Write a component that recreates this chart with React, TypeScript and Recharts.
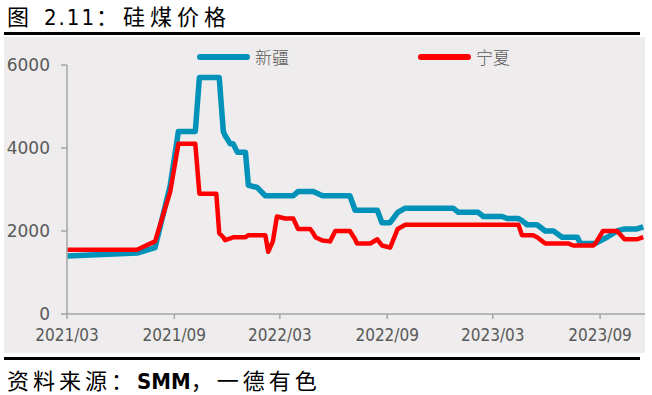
import { LineChart, Line, XAxis, YAxis } from 'recharts';

// 日期（周度）
const dates = [
    '2021-03-01', '2021-06-29', '2021-07-30', '2021-08-25', '2021-09-08', '2021-10-07',
    '2021-10-14', '2021-11-12', '2021-11-17', '2021-11-24', '2021-11-27', '2021-12-06',
    '2021-12-11', '2021-12-18', '2022-01-01', '2022-01-06', '2022-01-21', '2022-02-04',
    '2022-02-09', '2022-02-17', '2022-02-24', '2022-03-10', '2022-03-24', '2022-04-01',
    '2022-04-22', '2022-04-27', '2022-05-01', '2022-05-13', '2022-05-26', '2022-06-04',
    '2022-06-29', '2022-07-08', '2022-07-11', '2022-08-03', '2022-08-15', '2022-08-23',
    '2022-09-06', '2022-09-19', '2022-10-02', '2022-12-23', '2023-01-01', '2023-02-04',
    '2023-02-13', '2023-03-17', '2023-03-26', '2023-04-14', '2023-04-20', '2023-04-29',
    '2023-05-09', '2023-05-16', '2023-05-30', '2023-06-13', '2023-06-28', '2023-07-08',
    '2023-07-17', '2023-07-24', '2023-07-29', '2023-08-20', '2023-08-24', '2023-09-06',
    '2023-09-13', '2023-09-30', '2023-10-13', '2023-11-03', '2023-11-14',
];

// 新疆
const xinjiang = [
    1400, 1470, 1600, 3100, 4400, 4400,
    5700, 5700, 5700, 4400, 4300, 4100,
    4100, 3900, 3900, 3100, 3050, 2850,
    2850, 2850, 2850, 2850, 2850, 2950,
    2950, 2950, 2930, 2850, 2850, 2850,
    2850, 2500, 2500, 2500, 2500, 2200,
    2200, 2450, 2550, 2550, 2450, 2450,
    2350, 2350, 2300, 2300, 2250, 2150,
    2150, 2150, 2000, 2000, 1850, 1850,
    1850, 1850, 1700, 1700, 1700, 1800,
    1850, 2000, 2050, 2050, 2100,
];

// 宁夏
const ningxia = [
    1550, 1550, 1750, 2950, 4100, 4100,
    2900, 2900, 1950, 1850, 1780, 1820,
    1850, 1850, 1850, 1900, 1900, 1900,
    1500, 1750, 2350, 2300, 2300, 2050,
    2050, 1950, 1850, 1770, 1750, 2000,
    2000, 1800, 1700, 1700, 1800, 1650,
    1600, 2050, 2150, 2150, 2150, 2150,
    2150, 2150, 2150, 2150, 1900, 1900,
    1900, 1850, 1700, 1700, 1700, 1700,
    1650, 1650, 1650, 1650, 1700, 2000,
    2000, 2000, 1800, 1800, 1850,
];

const tickDates = ['2021-03-01', '2021-09-01', '2022-03-01', '2022-09-01', '2023-03-01', '2023-09-01'];
const yTicks = [0, 2000, 4000, 6000];

const DAY = 86400000;
const toDay = (s: string) => Date.parse(s + 'T00:00:00Z') / DAY;
const origin = toDay('2021-03-01');

const data = dates.map((d, i) => ({ t: toDay(d) - origin, xj: xinjiang[i], nx: ningxia[i] }));
const xTicks = tickDates.map((d) => toDay(d) - origin);
const endDay = toDay('2023-11-17') - origin;

const fmt = (v: number) => {
    const d = new Date((v + origin) * DAY);
    const m = d.getUTCMonth() + 1;
    return `${d.getUTCFullYear()}/${m < 10 ? '0' + m : m}`;
};

const cjk = '"Noto Sans CJK SC", "Noto Sans", sans-serif';
const narrow = '"DejaVu Sans Condensed", "DejaVu Sans", sans-serif';

export default function App() {
    return (
        <div style={{ position: 'fixed', left: 0, top: 0, width: 652, height: 395, background: '#fff', overflow: 'hidden' }}>
            <div style={{ position: 'absolute', left: 7, top: 0, fontFamily: cjk, fontSize: 22, letterSpacing: 5, lineHeight: '30px', color: '#000' }}>
                图 <span style={{ fontFamily: narrow, letterSpacing: 2 }}>2.11</span>：硅煤价格
            </div>
            <div style={{ position: 'absolute', left: 4, top: 32, width: 636, height: 3, background: '#000' }} />
            <div style={{ position: 'absolute', left: 4, top: 37, width: 641, height: 316, background: '#EEECEC' }} />
            <div style={{ position: 'absolute', left: 4, top: 357, width: 636, height: 3, background: '#000' }} />
            <div style={{ position: 'absolute', left: 7, top: 365, fontFamily: cjk, fontSize: 22, letterSpacing: 4, lineHeight: '28px', color: '#000' }}>
                资料来源：<span style={{ fontFamily: narrow, fontWeight: 700, letterSpacing: 0 }}>SMM</span>，一德有色
            </div>

            {/* legend */}
            <div style={{ position: 'absolute', left: 197, top: 54, width: 53, height: 6, borderRadius: 3, background: '#0092B8' }} />
            <div style={{ position: 'absolute', left: 255, top: 45, fontFamily: cjk, fontSize: 17, lineHeight: '24px', color: '#595959', fontWeight: 300 }}>新疆</div>
            <div style={{ position: 'absolute', left: 418, top: 54, width: 53, height: 6, borderRadius: 3, background: '#FF0000' }} />
            <div style={{ position: 'absolute', left: 476, top: 45, fontFamily: cjk, fontSize: 17, lineHeight: '24px', color: '#595959', fontWeight: 300 }}>宁夏</div>

            <div style={{ position: 'absolute', left: 0, top: 0 }}>
                <LineChart width={652} height={395} data={data} margin={{ top: 65, right: 7, bottom: 0, left: 0 }}>
                    <XAxis
                        dataKey="t"
                        type="number"
                        domain={[0, endDay]}
                        ticks={xTicks}
                        tickFormatter={fmt}
                        height={81}
                        stroke="#A6A6A6"
                        strokeWidth={1.5}
                        tickSize={5}
                        tickMargin={10}
                        tick={{ fill: '#595959', fontSize: 17, fontFamily: narrow }}
                        interval={0}
                    />
                    <YAxis
                        type="number"
                        domain={[0, 6000]}
                        ticks={yTicks}
                        width={67}
                        stroke="#A6A6A6"
                        strokeWidth={1.5}
                        tickSize={6}
                        tickMargin={11}
                        tick={{ fill: '#595959', fontSize: 17, fontFamily: '"DejaVu Sans", sans-serif' }}
                        interval={0}
                    />
                    <Line type="linear" dataKey="xj" stroke="#0092B8" strokeWidth={5.5} dot={false} isAnimationActive={false} strokeLinejoin="round" />
                    <Line type="linear" dataKey="nx" stroke="#FF0000" strokeWidth={4.5} dot={false} isAnimationActive={false} strokeLinejoin="round" />
                </LineChart>
            </div>
        </div>
    );
}
